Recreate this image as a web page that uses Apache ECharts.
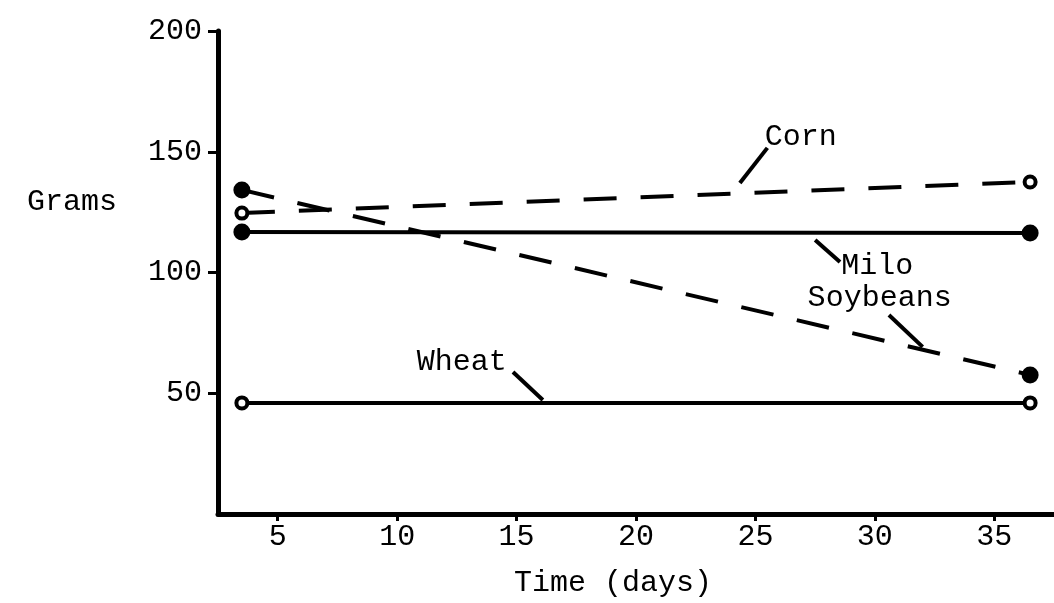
<!DOCTYPE html>
<html>
<head>
<meta charset="utf-8">
<script src="https://cdn.jsdelivr.net/npm/echarts@6/dist/echarts.min.js"></script>
<style>html,body{margin:0;padding:0;background:#fff}#c{width:1054px;height:603px}</style>
</head>
<body>
<div id="c"></div>
<script>
// ---- data ----
const days = [3.5, 36.5];
const corn = [124.6, 137.5];
const milo = [116.8, 116.4];
const soybeans = [134.2, 57.6];
const wheat = [46, 46];
const xTicks = [5, 10, 15, 20, 25, 30, 35];
const yTicks = [50, 100, 150, 200];
const labelNames = ['Corn', 'Milo', 'Soybeans', 'Wheat'];
// annotation anchors (data units)
const labelAnchors = [[26.9, 156.1], [30.1, 102.7], [30.2, 89.4], [12.7, 62.9]];
const leaderFrom = [[24.35, 137.1], [27.5, 113.5], [30.59, 82.4], [14.85, 58.8]];
const leaderTo = [[25.5, 151.6], [28.54, 104.3], [32.0, 69.2], [16.1, 47.2]];

const FONT = 'Liberation Mono';
const chart = echarts.init(document.getElementById('c'), null, {renderer: 'canvas'});

function pts(ys) { return days.map((d, i) => [d, ys[i]]); }
const filled = {symbol: 'circle', symbolSize: 17, itemStyle: {color: '#000'}};
const open = {symbol: 'circle', symbolSize: 11, itemStyle: {color: '#fff', borderColor: '#000', borderWidth: 4}};

function lineSeries(name, ys, dashed, mk) {
  return Object.assign({
    type: 'line', name: name, data: pts(ys), silent: true, animation: false,
    lineStyle: {color: '#000', width: 4, type: dashed ? [33, 24] : 'solid'},
    z: 3
  }, mk);
}

chart.setOption({
  backgroundColor: '#fff',
  animation: false,
  title: {text: 'Grams', left: 22, top: 182, textStyle: {fontFamily: FONT, fontSize: 30, fontWeight: 'normal', color: '#000'}},
  grid: {left: 218, right: 0, top: 31, bottom: 89},
  xAxis: {
    type: 'value', min: 2.5, max: 37.5,
    name: 'Time (days)', nameLocation: 'middle', nameGap: 54,
    nameTextStyle: {fontFamily: FONT, fontSize: 30, color: '#000', padding: [0, 46, 0, 0]},
    axisLine: {show: true, lineStyle: {color: '#000', width: 5}},
    axisTick: {show: true, customValues: xTicks, length: 7, lineStyle: {color: '#000', width: 3}},
    axisLabel: {customValues: xTicks, fontFamily: FONT, fontSize: 30, color: '#000', margin: 8},
    splitLine: {show: false}
  },
  yAxis: {
    type: 'value', min: 0, max: 200,
    axisLine: {show: true, lineStyle: {color: '#000', width: 5}},
    axisTick: {show: true, customValues: yTicks, length: 10, lineStyle: {color: '#000', width: 3}},
    axisLabel: {customValues: yTicks, fontFamily: FONT, fontSize: 30, color: '#000', margin: 16, padding: [0, 0, 14, 0]},
    splitLine: {show: false}
  },
  series: [
    lineSeries('Corn', corn, true, open),
    lineSeries('Milo', milo, false, filled),
    lineSeries('Soybeans', soybeans, true, filled),
    lineSeries('Wheat', wheat, false, open),
    {
      type: 'scatter', silent: true, symbolSize: 0, z: 5,
      itemStyle: {color: '#000', opacity: 1},
      data: labelNames.map((n, i) => ({name: n, value: labelAnchors[i]})),
      label: {show: true, position: 'inside', formatter: '{b}', fontFamily: FONT, fontSize: 30,
              color: '#000', textBorderWidth: 0, opacity: 1},
      emphasis: {disabled: true},
      markLine: {
        silent: true, symbol: 'none', animation: false,
        label: {show: false},
        lineStyle: {color: '#000', width: 4, type: 'solid', opacity: 1},
        data: labelNames.map((n, i) => [{coord: leaderFrom[i]}, {coord: leaderTo[i]}])
      }
    }
  ]
});
</script>
</body>
</html>
